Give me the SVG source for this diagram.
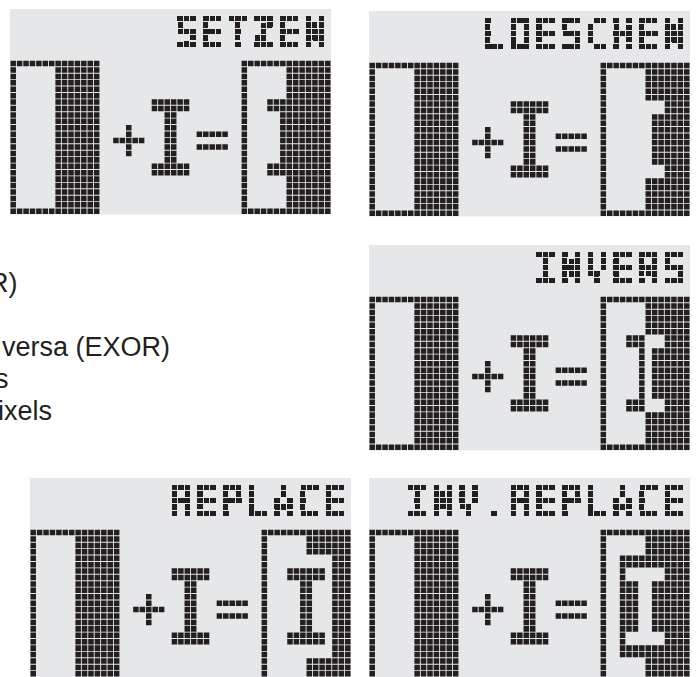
<svg xmlns="http://www.w3.org/2000/svg" width="696" height="677" viewBox="0 0 696 677">
<style>
.bg{fill:#e6e7e8}
.c{fill:none;stroke:#231f20;stroke-width:.86;stroke-dasharray:.86 .14;stroke-dashoffset:-.07}
.lcd{font-family:"DejaVu Sans Mono",monospace;font-weight:700;font-size:6.86px;fill:url(#dots);stroke:url(#dots);stroke-width:.3}
.t{font-family:"Liberation Sans",Arial,sans-serif;font-size:27px;fill:#231f20}
</style>
<defs>
<pattern id="dots" patternUnits="userSpaceOnUse" width="1.25" height="1"><rect x=".52" y=".42" width=".21" height=".16" fill="#231f20"/></pattern>
<filter id="px" x="-5%" y="-20%" width="110%" height="140%" primitiveUnits="userSpaceOnUse" color-interpolation-filters="sRGB">
<feComponentTransfer in="SourceAlpha" result="a"><feFuncA type="discrete" tableValues="0 1 1 1"/></feComponentTransfer>
<feMorphology in="a" operator="dilate" radius=".31" result="d"/>
<feFlood flood-color="#231f20"/>
<feComposite in2="d" operator="in"/>
</filter>
<path id="outline" class="c" d="M0 8.5h14M0 31.5h14M0 9.5h1M0 10.5h1M0 11.5h1M0 12.5h1M0 13.5h1M0 14.5h1M0 15.5h1M0 16.5h1M0 17.5h1M0 18.5h1M0 19.5h1M0 20.5h1M0 21.5h1M0 22.5h1M0 23.5h1M0 24.5h1M0 25.5h1M0 26.5h1M0 27.5h1M0 28.5h1M0 29.5h1M0 30.5h1"/>
<path id="fill" class="c" d="M7 9.5h7M7 10.5h7M7 11.5h7M7 12.5h7M7 13.5h7M7 14.5h7M7 15.5h7M7 16.5h7M7 17.5h7M7 18.5h7M7 19.5h7M7 20.5h7M7 21.5h7M7 22.5h7M7 23.5h7M7 24.5h7M7 25.5h7M7 26.5h7M7 27.5h7M7 28.5h7M7 29.5h7M7 30.5h7"/>
<g id="base">
<rect class="bg" width="50" height="32"/>
<use href="#outline"/><use href="#fill"/>
<path class="c" d="M18 18.5h1M18 19.5h1M16 20.5h5M18 21.5h1M18 22.5h1"/>
<path class="c" d="M22 14.5h6M22 15.5h6M24 16.5h2M24 17.5h2M24 18.5h2M24 19.5h2M24 20.5h2M24 21.5h2M24 22.5h2M24 23.5h2M22 24.5h6M22 25.5h6"/>
<path class="c" d="M29 19.5h5M29 21.5h5"/>
<use href="#outline" x="36"/>
</g>
</defs>

<g id="setzen" transform="translate(10 9) scale(6.42)">
<use href="#base"/>
<g filter="url(#px)"><text class="lcd" transform="scale(.8 1)" x="32.3 37.3 42.3 47.3 52.3 57.3" y="6">SETZEN</text></g>
<use href="#fill" x="36"/>
<path class="c" d="M40 14.5h3M40 15.5h3M42 16.5h1M42 17.5h1M42 18.5h1M42 19.5h1M42 20.5h1M42 21.5h1M42 22.5h1M42 23.5h1M40 24.5h3M40 25.5h3"/>
</g>

<g id="loeschen" transform="translate(369 11) scale(6.42)">
<use href="#base"/>
<g filter="url(#px)"><text class="lcd" transform="scale(.8 1)" x="22.3 27.3 32.3 37.3 42.3 47.3 52.3 57.3" y="6">LOESCHEN</text></g>
<path class="c" d="M43 9.5h7M43 10.5h7M43 11.5h7M43 12.5h7M43 13.5h7M46 14.5h4M46 15.5h4M44 16.5h6M44 17.5h6M44 18.5h6M44 19.5h6M44 20.5h6M44 21.5h6M44 22.5h6M44 23.5h6M46 24.5h4M46 25.5h4M43 26.5h7M43 27.5h7M43 28.5h7M43 29.5h7M43 30.5h7"/>
</g>

<g id="invers" transform="translate(369 245) scale(6.42)">
<use href="#base"/>
<g filter="url(#px)"><text class="lcd" transform="scale(.8 1)" x="32.3 37.3 42.3 47.3 52.3 57.3" y="6">INVERS</text></g>
<path class="c" d="M43 9.5h7M43 10.5h7M43 11.5h7M43 12.5h7M43 13.5h7M40 14.5h3M46 14.5h4M40 15.5h3M46 15.5h4M42 16.5h1M44 16.5h6M42 17.5h1M44 17.5h6M42 18.5h1M44 18.5h6M42 19.5h1M44 19.5h6M42 20.5h1M44 20.5h6M42 21.5h1M44 21.5h6M42 22.5h1M44 22.5h6M42 23.5h1M44 23.5h6M40 24.5h3M46 24.5h4M40 25.5h3M46 25.5h4M43 26.5h7M43 27.5h7M43 28.5h7M43 29.5h7M43 30.5h7"/>
</g>

<g id="replace" transform="translate(30 478) scale(6.42)">
<use href="#base"/>
<g filter="url(#px)"><text class="lcd" transform="scale(.8 1)" x="27.3 32.3 37.3 42.3 47.3 52.3 57.3" y="6">REPLACE</text></g>
<path class="c" d="M43 9.5h7M43 10.5h7M43 11.5h7M47 12.5h3M47 13.5h3M40 14.5h6M47 14.5h3M40 15.5h6M47 15.5h3M42 16.5h2M47 16.5h3M42 17.5h2M47 17.5h3M42 18.5h2M47 18.5h3M42 19.5h2M47 19.5h3M42 20.5h2M47 20.5h3M42 21.5h2M47 21.5h3M42 22.5h2M47 22.5h3M42 23.5h2M47 23.5h3M40 24.5h6M47 24.5h3M40 25.5h6M47 25.5h3M47 26.5h3M47 27.5h3M43 28.5h7M43 29.5h7M43 30.5h7"/>
</g>

<g id="inv-replace" transform="translate(369 478) scale(6.42)">
<use href="#base"/>
<g filter="url(#px)"><text class="lcd" transform="scale(.8 1)" x="7.3 12.3 17.3 22.3 27.3 32.3 37.3 42.3 47.3 52.3 57.3" y="6">INV.REPLACE</text></g>
<path class="c" d="M43 9.5h7M43 10.5h7M43 11.5h7M39 12.5h11M39 13.5h11M39 14.5h1M46 14.5h4M39 15.5h1M46 15.5h4M39 16.5h3M44 16.5h6M39 17.5h3M44 17.5h6M39 18.5h3M44 18.5h6M39 19.5h3M44 19.5h6M39 20.5h3M44 20.5h6M39 21.5h3M44 21.5h6M39 22.5h3M44 22.5h6M39 23.5h3M44 23.5h6M39 24.5h1M46 24.5h4M39 25.5h1M46 25.5h4M39 26.5h11M39 27.5h11M43 28.5h7M43 29.5h7M43 30.5h7"/>
</g>

<g id="notes">
<text class="t" x="-11" y="292">R)</text>
<text class="t" x="2" y="356">versa (EXOR)</text>
<text class="t" x="-5" y="388">s</text>
<text class="t" x="-2" y="420">ixels</text>
</g>
</svg>
